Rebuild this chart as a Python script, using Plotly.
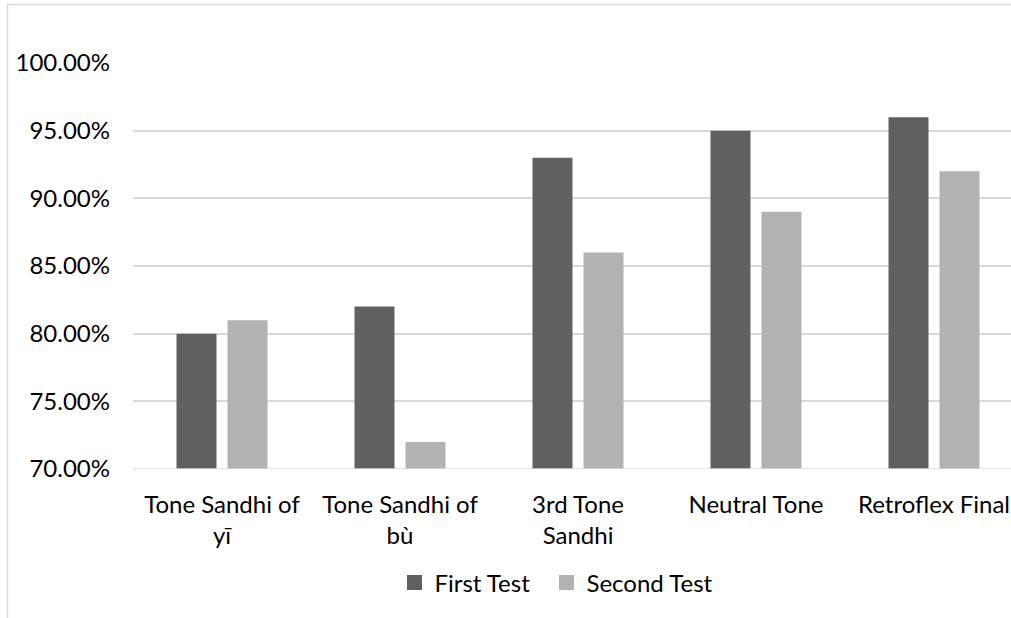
import plotly.graph_objects as go

categories = ["Tone Sandhi of<br>yī", "Tone Sandhi of<br>bù", "3rd Tone<br>Sandhi", "Neutral Tone", "Retroflex Final"]
first_test = [0.80, 0.82, 0.93, 0.95, 0.96]
second_test = [0.81, 0.72, 0.86, 0.89, 0.92]
y_ticks = [0.70, 0.75, 0.80, 0.85, 0.90, 0.95, 1.00]
series_names = ["First Test", "Second Test"]
series_colors = ["#606060", "#b2b2b2"]

W, H = 1011, 618
L, R, T, B = 133, 0, 63, 149
pw, ph = W - L - R, H - T - B

FONT = "Lato"
fig = go.Figure()
legend_ids = ["legend", "legend2"]
for name, vals, col in zip(series_names, [first_test, second_test], series_colors):
    fig.add_trace(go.Bar(name=name, x=categories, y=vals, marker_color=col,
                         marker_line_width=0, showlegend=False, legendgroup=name))
for name, col, lg in zip(series_names, series_colors, legend_ids):
    fig.add_trace(go.Scatter(name=name, x=[None], y=[None], mode="markers",
                             marker=dict(symbol="square", size=15, color=col),
                             showlegend=True, legendgroup=name, legend=lg))

def px_x(p):
    return (p - L) / pw

def px_y(p):
    return (H - B - p) / ph

leg_common = dict(orientation="h", xanchor="left", y=px_y(583), yanchor="middle",
                  font=dict(size=24), itemwidth=30, bgcolor="rgba(0,0,0,0)")

fig.update_layout(
    width=W, height=H,
    margin=dict(l=L, r=R, t=T, b=B, autoexpand=False),
    paper_bgcolor="white", plot_bgcolor="white",
    barmode="group", bargap=0.427, bargroupgap=0.216,
    font=dict(family=FONT, size=24, color="#000000"),
    xaxis=dict(range=[-0.5, 4.5 - 12 / 178], showgrid=False, showline=False, ticks="",
               tickfont=dict(size=24), ticklabelstandoff=19),
    yaxis=dict(range=[0.70, 1.0], tickvals=y_ticks, tickformat=".2%", showgrid=True,
               gridcolor="#d9d9d9", gridwidth=1.5, zeroline=False, showline=False, ticks="",
               tickfont=dict(size=24), ticklabelstandoff=22),
    legend=dict(x=px_x(394.5), **leg_common),
    legend2=dict(x=px_x(546.5), **leg_common),
    shapes=[
        dict(type="line", xref="paper", yref="paper", x0=px_x(7), x1=px_x(1011), y0=px_y(4.5), y1=px_y(4.5),
             line=dict(color="#d9d9d9", width=1.5)),
        dict(type="line", xref="paper", yref="paper", x0=px_x(7.5), x1=px_x(7.5), y0=px_y(4), y1=px_y(618),
             line=dict(color="#d9d9d9", width=1.5)),
        dict(type="line", xref="paper", yref="y", x0=0, x1=1, y0=0.70, y1=0.70,
             line=dict(color="#d9d9d9", width=1.5)),
    ],
)

fig.write_html("out.html")
